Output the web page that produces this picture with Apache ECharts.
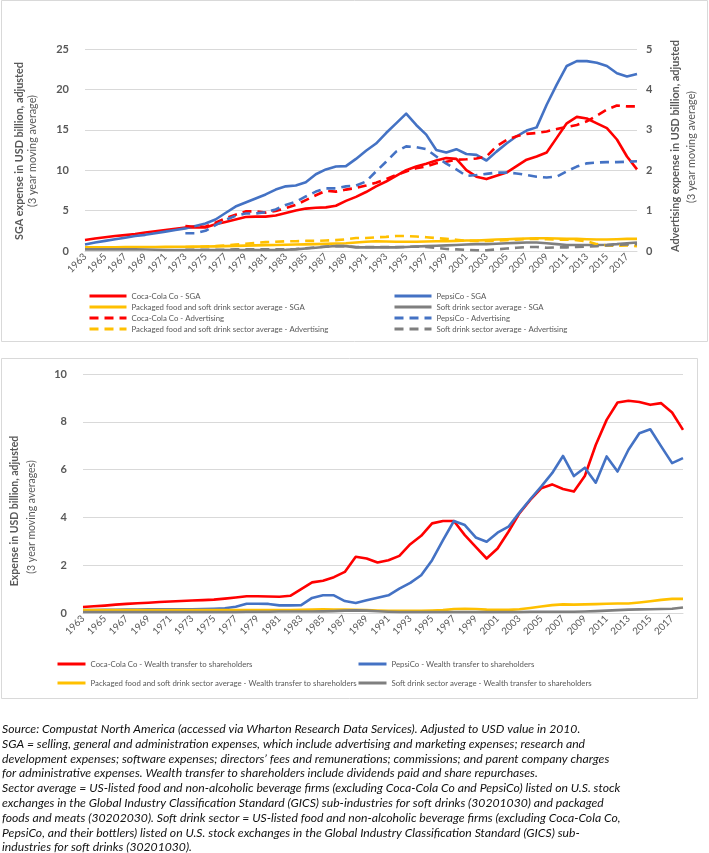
<!DOCTYPE html>
<html><head><meta charset="utf-8">
<script src="https://cdn.jsdelivr.net/npm/echarts@6/dist/echarts.min.js"></script>
<style>html,body{margin:0;padding:0;background:#fff}#c{width:709px;height:853px}</style>
</head><body><div id="c"></div>
<script>
const years = ['1963','1964','1965','1966','1967','1968','1969','1970','1971','1972','1973','1974','1975','1976','1977','1978','1979','1980','1981','1982','1983','1984','1985','1986','1987','1988','1989','1990','1991','1992','1993','1994','1995','1996','1997','1998','1999','2000','2001','2002','2003','2004','2005','2006','2007','2008','2009','2010','2011','2012','2013','2014','2015','2016','2017','2018'];

// Chart 1: SGA (left axis, USD bn)
const cokeSGA = [1.36,1.55,1.7,1.86,1.97,2.1,2.3,2.45,2.6,2.75, 2.9,2.9,2.9,3.3,3.6,3.9,4.2,4.25,4.25,4.4, 4.7,5.0,5.25,5.35,5.4,5.6,6.2,6.7,7.3,8.0, 8.6,9.3,10.0,10.45,10.8,11.2,11.5,11.4,10.0,9.2, 8.9,9.3,9.7,10.5,11.3,11.7,12.2,14.0,15.8,16.6, 16.4,15.8,15.2,13.8,11.7,10.1];
const pepsiSGA = [0.8,1.05,1.25,1.45,1.65,1.85,2.0,2.2,2.4,2.6, 2.8,3.1,3.4,3.9,4.7,5.5,6.0,6.5,7.0,7.6, 8.0,8.1,8.5,9.5,10.1,10.45,10.5,11.4,12.4,13.3, 14.6,15.8,17.0,15.6,14.4,12.5,12.2,12.6,12.0,11.9, 11.2,12.3,13.3,14.2,14.9,15.3,18.1,20.6,22.9,23.5, 23.5,23.3,22.9,22.0,21.6,21.9];
const packagedSGA = [0.45,0.45,0.46,0.47,0.48,0.49,0.5,0.5,0.51,0.52, 0.53,0.54,0.55,0.57,0.6,0.63,0.66,0.7,0.73,0.75, 0.78,0.8,0.82,0.85,0.88,0.92,0.96,1.05,1.15,1.2, 1.17,1.15,1.15,1.15,1.17,1.2,1.2,1.25,1.3,1.3, 1.35,1.42,1.46,1.5,1.55,1.58,1.58,1.55,1.5,1.5, 1.45,1.42,1.42,1.45,1.5,1.5];
const softSGA = [0.2,0.2,0.2,0.2,0.2,0.2,0.18,0.15,0.12,0.12, 0.12,0.12,0.12,0.12,0.12,0.13,0.13,0.13,0.13,0.13, 0.15,0.2,0.3,0.4,0.52,0.62,0.6,0.45,0.45,0.45, 0.45,0.45,0.5,0.55,0.6,0.65,0.7,0.75,0.8,0.85, 0.85,0.9,0.95,1.0,1.05,1.05,0.95,0.85,0.75,0.75, 0.75,0.75,0.78,0.85,0.95,1.05];

// Chart 1: Advertising (right axis, USD bn), data from 1973
const cokeAdv = [null,null,null,null,null,null,null,null,null,null, 0.62,0.6,0.6,0.7,0.81,0.9,0.98,0.98,0.95,0.99, 1.06,1.14,1.26,1.38,1.49,1.47,1.52,1.56,1.62,1.69, 1.78,1.88,1.97,2.05,2.09,2.17,2.21,2.26,2.27,2.29, 2.34,2.59,2.75,2.84,2.9,2.92,2.96,3.02,3.07,3.12, 3.21,3.35,3.5,3.6,3.58,3.58];
const pepsiAdv = [null,null,null,null,null,null,null,null,null,null, 0.44,0.44,0.5,0.64,0.77,0.87,0.93,0.93,0.96,1.03, 1.14,1.22,1.35,1.47,1.55,1.55,1.6,1.62,1.72,1.97, 2.21,2.46,2.59,2.57,2.52,2.34,2.16,2.02,1.86,1.88, 1.91,1.94,1.94,1.92,1.88,1.84,1.82,1.84,1.97,2.09, 2.17,2.19,2.2,2.2,2.21,2.22];
const packagedAdv = [null,null,null,null,null,null,null,null,null,null, 0.1,0.1,0.11,0.12,0.14,0.16,0.18,0.2,0.22,0.23, 0.24,0.24,0.25,0.25,0.26,0.27,0.29,0.32,0.32,0.34, 0.35,0.37,0.37,0.36,0.34,0.32,0.3,0.28,0.25,0.25, 0.25,0.26,0.27,0.28,0.3,0.3,0.29,0.28,0.28,0.27, 0.24,0.17,0.14,0.13,0.14,0.12];
const softAdv = [null,null,null,null,null,null,null,null,null,null, 0.03,0.03,0.03,0.03,0.03,0.04,0.04,0.04,0.04,0.04, 0.04,0.05,0.07,0.09,0.11,0.12,0.12,0.1,0.1,0.1, 0.1,0.1,0.1,0.11,0.1,0.08,0.05,0.04,0.03,0.02, 0.02,0.04,0.06,0.08,0.1,0.1,0.08,0.09,0.09,0.1, 0.11,0.12,0.14,0.15,0.16,0.17];

// Chart 2: Wealth transfer to shareholders (USD bn)
const cokeWealth = [0.25,0.28,0.31,0.35,0.38,0.41,0.43,0.46,0.48,0.5, 0.52,0.54,0.56,0.6,0.65,0.7,0.7,0.69,0.68,0.72, 1.0,1.28,1.35,1.5,1.72,2.35,2.28,2.11,2.21,2.39, 2.88,3.23,3.75,3.85,3.85,3.26,2.77,2.28,2.7,3.4, 4.17,4.73,5.22,5.38,5.19,5.08,5.73,7.03,8.08,8.81, 8.88,8.83,8.71,8.78,8.39,7.66];
const pepsiWealth = [0.12,0.12,0.13,0.13,0.14,0.14,0.15,0.15,0.15,0.16, 0.16,0.17,0.18,0.2,0.26,0.39,0.39,0.38,0.32,0.32, 0.33,0.63,0.74,0.74,0.5,0.42,0.53,0.64,0.74,1.02, 1.26,1.58,2.21,3.05,3.85,3.68,3.16,2.98,3.36,3.61, 4.2,4.76,5.29,5.85,6.57,5.73,6.08,5.45,6.55,5.92, 6.83,7.52,7.69,6.97,6.27,6.48];
const packagedWealth = [0.12,0.12,0.12,0.12,0.12,0.12,0.12,0.12,0.12,0.12, 0.12,0.12,0.12,0.12,0.12,0.12,0.12,0.12,0.12,0.12, 0.13,0.14,0.15,0.14,0.14,0.13,0.12,0.1,0.09,0.09, 0.09,0.09,0.1,0.12,0.17,0.18,0.17,0.14,0.13,0.13, 0.16,0.21,0.27,0.33,0.36,0.35,0.36,0.37,0.39,0.4, 0.4,0.44,0.49,0.55,0.59,0.59];
const softWealth = [0.04,0.04,0.04,0.04,0.04,0.04,0.04,0.04,0.04,0.04, 0.04,0.04,0.04,0.04,0.04,0.05,0.05,0.05,0.06,0.06, 0.06,0.06,0.07,0.08,0.1,0.11,0.1,0.07,0.05,0.04, 0.04,0.04,0.04,0.04,0.04,0.04,0.04,0.04,0.04,0.04, 0.04,0.05,0.05,0.05,0.05,0.05,0.06,0.08,0.1,0.12, 0.14,0.15,0.16,0.17,0.18,0.23];

const footnoteLines = [
 'Source: Compustat North America (accessed via Wharton Research Data Services). Adjusted to USD value in 2010.',
 'SGA = selling, general and administration expenses, which include advertising and marketing expenses; research and',
 'development expenses; software expenses; directors\u2019 fees and remunerations; commissions; and parent company charges',
 'for administrative expenses. Wealth transfer to shareholders include dividends paid and share repurchases.',
 'Sector average = US-listed food and non-alcoholic beverage firms (excluding Coca-Cola Co and PepsiCo) listed on U.S. stock',
 'exchanges in the Global Industry Classification Standard (GICS) sub-industries for soft drinks (30201030) and packaged',
 'foods and meats (30202030). Soft drink sector = US-listed food and non-alcoholic beverage firms (excluding Coca-Cola Co,',
 'PepsiCo, and their bottlers) listed on U.S. stock exchanges in the Global Industry Classification Standard (GICS) sub-',
 'industries for soft drinks (30201030).'
];

const RED = '#FF0000', BLUE = '#4472C4', GOLD = '#FFC000', GRAY = '#7F7F7F';
const FONT = 'Lato, "Open Sans", sans-serif';
const TXT = '#595959';
const GRIDC = '#D9D9D9';

function line(name, data, color, xi, yi, dashed) {
  return {
    name: name, type: 'line', data: data, xAxisIndex: xi, yAxisIndex: yi,
    symbol: 'none', showSymbol: false, connectNulls: false, animation: false,
    lineStyle: { color: color, width: 2.6, type: dashed ? [9, 6] : 'solid', cap: 'butt', join: 'round' },
    itemStyle: { color: color }
  };
}

const xCommon = {
  type: 'category', data: years, boundaryGap: false,
  axisLine: { show: true, lineStyle: { color: GRIDC } },
  axisTick: { show: false },
  axisLabel: { interval: 1, rotate: 45, fontSize: 9.8, color: TXT, fontFamily: FONT, margin: 4 },
  splitLine: { show: false }
};
const yLabel = { fontSize: 11, fontWeight: 'bold', color: TXT, fontFamily: FONT };

const legendText = { fontSize: 7.8, color: TXT, fontFamily: FONT, lineHeight: 8 };
const legendBase = { orient: 'vertical', itemHeight: 8, padding: 0, textStyle: legendText,
  itemStyle: { opacity: 0, borderWidth: 0 }, lineStyle: { width: 3 } };

const graphics = [
  { type: 'rect', shape: { x: 1.5, y: 0.5, width: 706, height: 341 }, style: { fill: 'none', stroke: GRIDC, lineWidth: 1 }, silent: true },
  { type: 'rect', shape: { x: 1.5, y: 358.5, width: 696, height: 340 }, style: { fill: 'none', stroke: GRIDC, lineWidth: 1 }, silent: true },
  { type: 'text', x: 20, y: 151, rotation: Math.PI / 2, style: { text: 'SGA expense in USD billion, adjusted', font: 'bold 10.8px ' + FONT, fill: TXT, align: 'center', verticalAlign: 'middle' } },
  { type: 'text', x: 33, y: 151, rotation: Math.PI / 2, style: { text: '(3 year moving average)', font: '10.8px ' + FONT, fill: TXT, align: 'center', verticalAlign: 'middle' } },
  { type: 'text', x: 676, y: 146, rotation: Math.PI / 2, style: { text: 'Advertising expense in USD billion, adjusted', font: 'bold 10.8px ' + FONT, fill: TXT, align: 'center', verticalAlign: 'middle' } },
  { type: 'text', x: 692, y: 147, rotation: Math.PI / 2, style: { text: '(3 year moving average)', font: '10.8px ' + FONT, fill: TXT, align: 'center', verticalAlign: 'middle' } },
  { type: 'text', x: 15, y: 511, rotation: Math.PI / 2, style: { text: 'Expense in USD billion, adjusted', font: 'bold 10.5px ' + FONT, fill: TXT, align: 'center', verticalAlign: 'middle' } },
  { type: 'text', x: 32, y: 517, rotation: Math.PI / 2, style: { text: '(3 year moving averages)', font: '10.5px ' + FONT, fill: TXT, align: 'center', verticalAlign: 'middle' } }
];
footnoteLines.forEach(function (t, k) {
  graphics.push({ type: 'text', x: 2, y: 729 + k * 14.8, style: { text: t, font: 'italic 12.2px ' + FONT, fill: '#111', align: 'left', verticalAlign: 'middle' } });
});

const option = {
  backgroundColor: '#fff',
  animation: false,
  grid: [
    { left: 85, top: 49, width: 552, height: 202 },
    { left: 83, top: 374, width: 600, height: 239 }
  ],
  xAxis: [
    Object.assign({}, xCommon, { gridIndex: 0 }),
    Object.assign({}, xCommon, { gridIndex: 1 })
  ],
  yAxis: [
    { type: 'value', gridIndex: 0, min: 0, max: 25, interval: 5, position: 'left',
      axisLine: { show: false }, axisTick: { show: false }, axisLabel: Object.assign({ margin: 16 }, yLabel),
      splitLine: { show: true, lineStyle: { color: GRIDC, width: 1 } } },
    { type: 'value', gridIndex: 0, min: 0, max: 5, interval: 1, position: 'right',
      axisLine: { show: false }, axisTick: { show: false }, axisLabel: Object.assign({ margin: 9 }, yLabel),
      splitLine: { show: false } },
    { type: 'value', gridIndex: 1, min: 0, max: 10, interval: 2, position: 'left',
      axisLine: { show: false }, axisTick: { show: false }, axisLabel: Object.assign({ margin: 16 }, yLabel),
      splitLine: { show: true, lineStyle: { color: GRIDC, width: 1 } } }
  ],
  legend: [
    Object.assign({}, legendBase, { left: 88, top: 292, itemWidth: 37, itemGap: 3,
      data: ['Coca-Cola Co - SGA', 'Packaged food and soft drink sector average - SGA', 'Coca-Cola Co - Advertising', 'Packaged food and soft drink sector average - Advertising'] }),
    Object.assign({}, legendBase, { left: 393, top: 292, itemWidth: 37, itemGap: 3,
      data: ['PepsiCo - SGA', 'Soft drink sector average - SGA', 'PepsiCo - Advertising', 'Soft drink sector average - Advertising'] }),
    Object.assign({}, legendBase, { left: 56, top: 660, itemWidth: 28, itemGap: 11,
      data: ['Coca-Cola Co - Wealth transfer to shareholders', 'Packaged food and soft drink sector average - Wealth transfer to shareholders'] }),
    Object.assign({}, legendBase, { left: 357, top: 660, itemWidth: 28, itemGap: 11,
      data: ['PepsiCo - Wealth transfer to shareholders', 'Soft drink sector average - Wealth transfer to shareholders'] })
  ],
  series: [
    line('Coca-Cola Co - SGA', cokeSGA, RED, 0, 0, false),
    line('PepsiCo - SGA', pepsiSGA, BLUE, 0, 0, false),
    line('Packaged food and soft drink sector average - SGA', packagedSGA, GOLD, 0, 0, false),
    line('Soft drink sector average - SGA', softSGA, GRAY, 0, 0, false),
    line('Coca-Cola Co - Advertising', cokeAdv, RED, 0, 1, true),
    line('PepsiCo - Advertising', pepsiAdv, BLUE, 0, 1, true),
    line('Packaged food and soft drink sector average - Advertising', packagedAdv, GOLD, 0, 1, true),
    line('Soft drink sector average - Advertising', softAdv, GRAY, 0, 1, true),
    line('Coca-Cola Co - Wealth transfer to shareholders', cokeWealth, RED, 1, 2, false),
    line('PepsiCo - Wealth transfer to shareholders', pepsiWealth, BLUE, 1, 2, false),
    line('Packaged food and soft drink sector average - Wealth transfer to shareholders', packagedWealth, GOLD, 1, 2, false),
    line('Soft drink sector average - Wealth transfer to shareholders', softWealth, GRAY, 1, 2, false)
  ],
  graphic: graphics
};

const chart = echarts.init(document.getElementById('c'), null, { renderer: 'canvas' });
chart.setOption(option);
</script>
</body></html>
